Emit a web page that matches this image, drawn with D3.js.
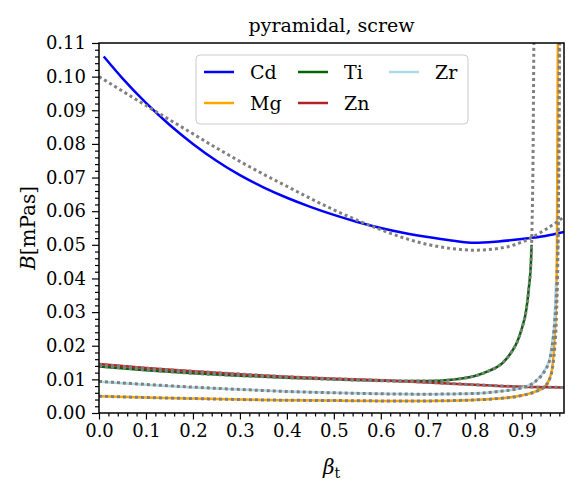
<!DOCTYPE html>
<html>
<head>
<meta charset="utf-8">
<script src="https://cdn.jsdelivr.net/npm/d3@7"></script>
<style>
  body { margin: 0; background: #fff; }
  text { font-family: "DejaVu Serif", "Liberation Serif", serif; fill: #000; }
</style>
</head>
<body>
<svg id="chart" width="585" height="491"></svg>
<script>
// measured data, beta_t vs B [mPas]
var cdBeta = [0.01, 0.05, 0.10, 0.15, 0.20, 0.25, 0.30, 0.35, 0.40, 0.45, 0.50, 0.55, 0.60, 0.65, 0.70, 0.75, 0.80, 0.85, 0.90, 0.95, 0.99];
var cdB    = [0.1060, 0.0995, 0.0922, 0.0857, 0.0800, 0.0750, 0.0707, 0.0671, 0.0640, 0.0613, 0.0589, 0.0568, 0.0550, 0.0535, 0.0523, 0.0513, 0.0506, 0.0510, 0.0517, 0.0526, 0.0538];

var mgBeta = [0.0, 0.1, 0.2, 0.3, 0.4, 0.5, 0.6, 0.7, 0.8, 0.85, 0.9, 0.93, 0.95, 0.96, 0.965, 0.97, 0.973, 0.975, 0.976, 0.977];
var mgB    = [0.0050, 0.0046, 0.0043, 0.0040, 0.0038, 0.0037, 0.0036, 0.0036, 0.0039, 0.0043, 0.0052, 0.0064, 0.0080, 0.0105, 0.0135, 0.0220, 0.0330, 0.0500, 0.0800, 0.1150];

var tiBeta = [0.0, 0.1, 0.2, 0.3, 0.4, 0.5, 0.6, 0.65, 0.7, 0.75, 0.8, 0.83, 0.86, 0.88, 0.89, 0.9, 0.91, 0.915, 0.92, 0.921];
var tiB    = [0.0138, 0.0127, 0.0118, 0.0111, 0.0105, 0.0100, 0.0096, 0.0095, 0.0095, 0.0099, 0.0110, 0.0125, 0.0150, 0.0185, 0.0210, 0.0250, 0.0310, 0.0370, 0.0460, 0.0500];

var znBeta = [0.0, 0.1, 0.2, 0.3, 0.4, 0.5, 0.6, 0.7, 0.8, 0.9, 0.99];
var znB    = [0.0146, 0.0134, 0.0124, 0.0115, 0.0108, 0.0102, 0.0097, 0.0091, 0.0084, 0.0078, 0.0076];

var zrBeta = [0.0, 0.1, 0.2, 0.3, 0.4, 0.5, 0.6, 0.7, 0.8, 0.85, 0.9, 0.93, 0.95, 0.96, 0.965, 0.97, 0.973];
var zrB    = [0.0093, 0.0084, 0.0076, 0.0070, 0.0064, 0.0060, 0.0057, 0.0056, 0.0058, 0.0064, 0.0075, 0.0095, 0.0130, 0.0165, 0.0210, 0.0280, 0.0390];

// fits (grey dotted)
var cdFitBeta = [0.0, 0.05, 0.10, 0.15, 0.20, 0.25, 0.30, 0.35, 0.40, 0.45, 0.50, 0.55, 0.60, 0.65, 0.70, 0.75, 0.80, 0.85, 0.90, 0.95, 0.99];
var cdFitB    = [0.1000, 0.0957, 0.0914, 0.0872, 0.0830, 0.0788, 0.0748, 0.0710, 0.0674, 0.0638, 0.0604, 0.0573, 0.0545, 0.0520, 0.0501, 0.0489, 0.0484, 0.0489, 0.0508, 0.0545, 0.0583];

var mgFitBeta = [0.0, 0.1, 0.2, 0.3, 0.4, 0.5, 0.6, 0.7, 0.8, 0.85, 0.9, 0.93, 0.95, 0.96, 0.965, 0.97, 0.974, 0.977, 0.979, 0.980];
var mgFitB    = [0.0050, 0.0046, 0.0043, 0.0040, 0.0038, 0.0037, 0.0036, 0.0036, 0.0039, 0.0043, 0.0052, 0.0064, 0.0080, 0.0103, 0.0130, 0.0190, 0.0290, 0.0480, 0.0800, 0.1150];

var tiFitBeta = [0.0, 0.1, 0.2, 0.3, 0.4, 0.5, 0.6, 0.65, 0.7, 0.75, 0.8, 0.83, 0.86, 0.88, 0.89, 0.9, 0.91, 0.915, 0.92, 0.922, 0.924, 0.926];
var tiFitB    = [0.0140, 0.0128, 0.0118, 0.0111, 0.0105, 0.0100, 0.0096, 0.0095, 0.0095, 0.0099, 0.0110, 0.0125, 0.0150, 0.0185, 0.0210, 0.0250, 0.0310, 0.0370, 0.0460, 0.0560, 0.0750, 0.1150];

var znFitBeta = [0.0, 0.1, 0.2, 0.3, 0.4, 0.5, 0.6, 0.7, 0.8, 0.9, 0.99];
var znFitB    = [0.0144, 0.0133, 0.0124, 0.0116, 0.0108, 0.0102, 0.0097, 0.0091, 0.0084, 0.0078, 0.0076];

var zrFitBeta = [0.0, 0.1, 0.2, 0.3, 0.4, 0.5, 0.6, 0.7, 0.8, 0.85, 0.9, 0.93, 0.95, 0.96, 0.965, 0.97, 0.975, 0.978, 0.981];
var zrFitB    = [0.0094, 0.0085, 0.0077, 0.0070, 0.0064, 0.0060, 0.0057, 0.0056, 0.0058, 0.0064, 0.0075, 0.0095, 0.0128, 0.0160, 0.0200, 0.0270, 0.0400, 0.0600, 0.1150];

var xTicks = [0.0, 0.1, 0.2, 0.3, 0.4, 0.5, 0.6, 0.7, 0.8, 0.9];
var yTicks = [0.00, 0.01, 0.02, 0.03, 0.04, 0.05, 0.06, 0.07, 0.08, 0.09, 0.10, 0.11];

function zip(a, b) { return a.map(function(d, i) { return [d, b[i]]; }); }

var series = [
  {name: 'Cd', color: '#0000ff', data: zip(cdBeta, cdB), fit: zip(cdFitBeta, cdFitB)},
  {name: 'Mg', color: '#ffa500', data: zip(mgBeta, mgB), fit: zip(mgFitBeta, mgFitB)},
  {name: 'Ti', color: '#006400', data: zip(tiBeta, tiB), fit: zip(tiFitBeta, tiFitB)},
  {name: 'Zn', color: '#b22222', data: zip(znBeta, znB), fit: zip(znFitBeta, znFitB)},
  {name: 'Zr', color: '#add8e6', data: zip(zrBeta, zrB), fit: zip(zrFitBeta, zrFitB)}
];

var margin = {top: 43, right: 21, bottom: 78, left: 99},
    width = 585, height = 491,
    chartWidth = width - margin.left - margin.right,
    chartHeight = height - margin.top - margin.bottom;

var svg = d3.select('#chart');

var x = d3.scaleLinear().domain([0, 0.99]).range([0, chartWidth]);
var y = d3.scaleLinear().domain([0, 0.11]).range([chartHeight, 0]);

var chartG = svg.append('g')
  .attr('transform', 'translate(' + margin.left + ',' + margin.top + ')');

chartG.append('clipPath').attr('id', 'clip')
  .append('rect').attr('width', chartWidth).attr('height', chartHeight);

var line = d3.line()
  .x(function(d) { return x(d[0]); })
  .y(function(d) { return y(d[1]); })
  .curve(d3.curveMonotoneX);

var plotG = chartG.append('g').attr('clip-path', 'url(#clip)');

// data lines
series.forEach(function(s) {
  plotG.append('path')
    .datum(s.data)
    .attr('fill', 'none')
    .attr('stroke', s.color)
    .attr('stroke-width', 2.5)
    .attr('d', line);
});

// fit lines
series.forEach(function(s) {
  plotG.append('path')
    .datum(s.fit)
    .attr('fill', 'none')
    .attr('stroke', '#808080')
    .attr('stroke-width', 3)
    .attr('stroke-dasharray', '3,3')
    .attr('d', line);
});

// minor ticks
var xMinor = d3.range(0, 0.991, 0.02).filter(function(v) { return Math.abs(Math.round(v * 10) - v * 10) > 1e-6; });
var yMinor = d3.range(0, 0.1101, 0.002).filter(function(v) { return Math.abs(Math.round(v * 100) - v * 100) > 1e-6; });

chartG.append('g')
  .attr('transform', 'translate(0,' + chartHeight + ')')
  .call(d3.axisBottom(x).tickValues(xMinor).tickSize(3.5).tickFormat(''))
  .call(function(g) { g.select('.domain').remove(); });

chartG.append('g')
  .call(d3.axisLeft(y).tickValues(yMinor).tickSize(4).tickFormat(''))
  .call(function(g) { g.select('.domain').remove(); });

// major axes
chartG.append('g')
  .attr('transform', 'translate(0,' + chartHeight + ')')
  .call(d3.axisBottom(x).tickValues(xTicks).tickSize(6.5).tickPadding(5).tickFormat(d3.format('.1f')));

chartG.append('g')
  .call(d3.axisLeft(y).tickValues(yTicks).tickSize(7).tickPadding(6).tickFormat(d3.format('.2f')));

chartG.selectAll('.tick line').attr('stroke', '#000').attr('stroke-width', 1.2);
chartG.selectAll('.domain').remove();
chartG.selectAll('.tick text').attr('font-size', 18).attr('font-family', '"DejaVu Serif", serif');

// frame
chartG.append('rect')
  .attr('width', chartWidth).attr('height', chartHeight)
  .attr('fill', 'none').attr('stroke', '#000').attr('stroke-width', 1.5);

// title
svg.append('text')
  .attr('x', margin.left + chartWidth / 2).attr('y', 32)
  .attr('text-anchor', 'middle').attr('font-size', 19)
  .text('pyramidal, screw');

// axis labels
var yl = svg.append('text')
  .attr('transform', 'translate(35,' + (margin.top + chartHeight / 2) + ') rotate(-90)')
  .attr('text-anchor', 'middle').attr('font-size', 20);
yl.append('tspan').attr('font-style', 'italic').text('B');
yl.append('tspan').text('[mPas]');

var xl = svg.append('text')
  .attr('x', margin.left + chartWidth / 2).attr('y', 474)
  .attr('text-anchor', 'middle').attr('font-size', 20);
xl.append('tspan').attr('font-style', 'italic').text('β');
xl.append('tspan').attr('font-size', 14).attr('dy', 4).text('t');

// legend
var legend = chartG.append('g').attr('transform', 'translate(' + (196 - margin.left) + ',' + (55 - margin.top) + ')');
legend.append('rect')
  .attr('width', 272).attr('height', 69).attr('rx', 4)
  .attr('fill', '#fff').attr('fill-opacity', 0.8)
  .attr('stroke', '#cccccc').attr('stroke-width', 1);

var legendPos = [[0, 0], [0, 1], [1, 0], [1, 1], [2, 0]];
var colX = [8, 102, 193], rowY = [17, 48];
series.forEach(function(s, i) {
  var lx = colX[legendPos[i][0]], ly = rowY[legendPos[i][1]];
  legend.append('line')
    .attr('x1', lx).attr('x2', lx + 30).attr('y1', ly).attr('y2', ly)
    .attr('stroke', s.color).attr('stroke-width', 2.5);
  legend.append('text')
    .attr('x', lx + 46).attr('y', ly + 7)
    .attr('font-size', 19)
    .text(s.name);
});
</script>
</body>
</html>
